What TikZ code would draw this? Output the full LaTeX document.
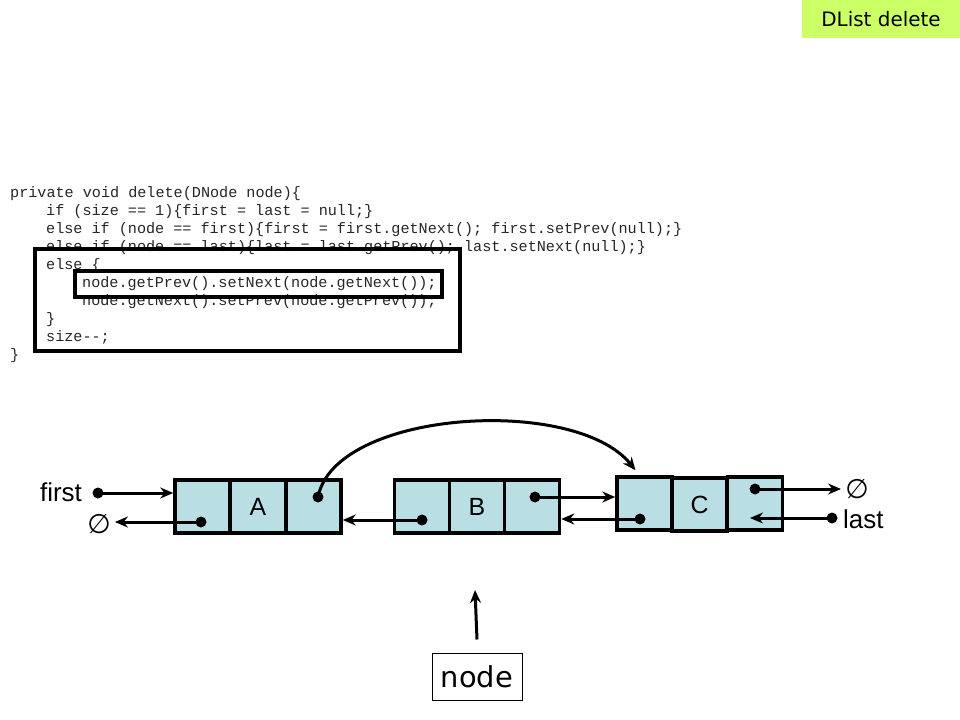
\documentclass[tikz,border=0pt]{standalone}
\usepackage{fontspec}
\setmainfont{Liberation Sans}
\newfontfamily\codefont{Liberation Mono}
\newfontfamily\tagfont{DejaVu Sans}
\usetikzlibrary{arrows.meta}

\definecolor{cellblue}{RGB}{185,223,228}
\definecolor{taggreen}{RGB}{204,255,102}

\tikzset{
    cell/.style={draw=black, line width=3.5bp, fill=cellblue, minimum width=55bp,
                 minimum height=53bp, inner sep=0pt, font=\fontsize{25}{30}\selectfont},
    ptr/.style={line width=3bp, -{Stealth[length=13bp,width=11bp]}},
    dot/.style={circle, fill=black, inner sep=0pt, minimum size=11bp},
    code/.style={anchor=base west, inner sep=0pt, text=black!85,
                 font=\codefont\fontsize{15.2}{18}\selectfont},
    label/.style={inner sep=0pt, font=\fontsize{26}{30}\selectfont},
    nullsym/.style={inner sep=0pt, font=\tagfont\fontsize{27}{30}\selectfont},
}

\begin{document}
\begin{tikzpicture}[x=1bp, y=-1bp]
            \useasboundingbox (0,0) rectangle (960,720);

            % Place the title tag
            \node[fill=taggreen, minimum width=158bp, minimum height=38bp, inner sep=0pt,
                  font=\tagfont\fontsize{20}{24}\selectfont] (tag) at (881,19) {DList delete};

            % Place the code
            \node[code] (code1) at (10,197) {private void delete(DNode node)\{};
            \node[code] (code2) at (46,215) {if (size == 1)\{first = last = null;\}};
            \node[code] (code3) at (46,233) {else if (node == first)\{first = first.getNext(); first.setPrev(null);\}};
            \node[code] (code4) at (46,251) {else if (node == last)\{last = last.getPrev(); last.setNext(null);\}};
            \node[code] (code5) at (46,269) {else \{};
            \node[code] (code6) at (82,287) {node.getPrev().setNext(node.getNext());};
            \node[code] (code7) at (82,305) {node.getNext().setPrev(node.getPrev());};
            \node[code] (code8) at (46,323) {\}};
            \node[code] (code9) at (46,341) {size-{}-;};
            \node[code] (code10) at (10,359) {\}};

            % The boxes round the code
            \node[draw=black, line width=4bp, minimum width=425bp, minimum height=102bp] (elsebox) at (247.5,300) {};
            \node[draw=black, line width=3.5bp, minimum width=367bp, minimum height=26bp] (linebox) at (258.5,284) {};

            % Place the list nodes
            \node[cell] (a1) at (202.5,506.5) {};
            \node[cell] (a2) at (258,506.5) {A};
            \node[cell] (a3) at (313.5,506.5) {};
            \node[cell] (b1) at (422,506.5) {};
            \node[cell] (b2) at (477,506.5) {B};
            \node[cell] (b3) at (532,506.5) {};
            \node[cell] (c1) at (644.5,503.5) {};
            \node[cell] (c3) at (755,503.5) {};
            \node[cell] (c2) at (699.5,504.5) {C};

            % Place the labels
            \node[label, anchor=east] (first) at (82,492) {first};
            \node[nullsym] (nullA) at (99,524) {∅};
            \node[nullsym] (nullC) at (857,489) {∅};
            \node[label, anchor=west] (last) at (843,519) {last};
            \node[draw=black, line width=1bp, minimum width=90bp, minimum height=47bp, inner sep=0pt,
                  font=\tagfont\fontsize{29}{32}\selectfont] (nodebox) at (477,676.5) {node};
            \coordinate (nodetip) at (475,590);

            % Place the dots
            \node[dot] (fdot) at (98,493) {};
            \node[dot] (apdot) at (201,522) {};
            \node[dot] (andot) at (318,497) {};
            \node[dot] (bpdot) at (422,520) {};
            \node[dot] (bndot) at (535,497) {};
            \node[dot] (cpdot) at (640,519) {};
            \node[dot] (cndot) at (755,489) {};
            \node[dot] (ldot) at (832,518) {};

            % The lines!
            \draw[ptr] (fdot.center) -- (fdot -| a1.west);
            \draw[ptr] (apdot.center) -- ([xshift=4bp]apdot -| nullA.east);
            \draw[ptr] (andot.center) .. controls (335,410) and (575,395) .. ([xshift=-9bp,yshift=5bp]c1.north);
            \draw[ptr] (bpdot.center) -- (bpdot -| a3.east);
            \draw[ptr] (bndot.center) -- (bndot -| c1.west);
            \draw[ptr] (cpdot.center) -- (cpdot -| b3.east);
            \draw[ptr] (cndot.center) -- ([xshift=-4bp]cndot -| nullC.west);
            \draw[ptr] (ldot.center) -- (750,518);
            \draw[ptr] ([yshift=13bp]nodebox.north) -- (nodetip);
        \end{tikzpicture}
\end{document}
